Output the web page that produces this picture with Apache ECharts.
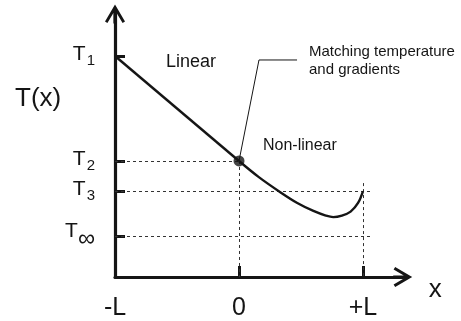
<!DOCTYPE html>
<html><head><meta charset="utf-8">
<script src="https://cdn.jsdelivr.net/npm/echarts@6/dist/echarts.min.js"></script>
<style>html,body{margin:0;padding:0;background:#fff}#c{width:461px;height:321px}</style>
</head><body><div id="c"></div>
<script>
// ---- data ----
const xTickValues = [-1, 0, 1];
const xTickLabels = ['-L', '0', '+L'];
const yLevelNames = ['1', '2', '3', '∞'];
const yLevelValues = [100, 52.5, 38.9, 18.6];
const linearX = [-1, 0];
const linearT = [100, 52.5];
const nonlinearX = [0, 0.16, 0.33, 0.47, 0.6, 0.7, 0.76, 0.83, 0.9, 0.96, 1.0];
const nonlinearT = [52.5, 45.2, 38.5, 33.5, 29.9, 27.8, 27.1, 27.8, 29.6, 33.5, 38.9];
const matchPoint = [0, 52.5];

const FONT = 'Liberation Sans, Arial, sans-serif';
const INK = '#151515';
const ARROW = 'path://M0,0 L10,17 L7.6,18.6 L1.6,8.4 L1.6,19 L-1.6,19 L-1.6,8.4 L-7.6,18.6 L-10,17 Z';

const chart = echarts.init(document.getElementById('c'), null, {renderer: 'canvas'});
const T2 = yLevelValues[1], T3 = yLevelValues[2], Tinf = yLevelValues[3];

chart.setOption({
  animation: false,
  grid: {left: 115, top: 14, right: 58.3, bottom: 44, containLabel: false},
  xAxis: {
    type: 'value', min: -1, max: 1.32,
    splitLine: {show: false},
    axisLine: {show: true, onZero: false, lineStyle: {color: INK, width: 3.2}, symbol: ['none', ARROW], symbolSize: [20, 19]},
    axisTick: {show: true, customValues: [xTickValues[1], xTickValues[2]], inside: true, length: 11, lineStyle: {color: INK, width: 3}},
    axisLabel: {customValues: xTickValues, margin: 19, fontSize: 25, fontFamily: FONT, color: INK,
      formatter: v => xTickLabels[xTickValues.indexOf(v)]},
    name: 'x', nameLocation: 'end', nameGap: 26,
    nameTextStyle: {fontSize: 26, fontFamily: FONT, color: INK, verticalAlign: 'top', align: 'left'}
  },
  yAxis: {
    type: 'value', min: 0, max: 119,
    splitLine: {show: false},
    axisLine: {show: true, onZero: false, lineStyle: {color: INK, width: 3.2}, symbol: ['none', ARROW], symbolSize: [20, 19]},
    axisTick: {show: true, customValues: yLevelValues, inside: true, length: 10, lineStyle: {color: INK, width: 3}},
    axisLabel: {customValues: yLevelValues, margin: 20, color: INK,
      formatter: v => {
        const n = yLevelNames[yLevelValues.indexOf(v)];
        return '{t|T}' + (n === '∞' ? '{i|' + n + '}' : '{s|' + n + '}');
      },
      rich: {
        t: {fontSize: 21, fontFamily: FONT, color: INK, verticalAlign: 'top'},
        s: {fontSize: 15, fontFamily: FONT, color: INK, verticalAlign: 'top', padding: [9, 0, 0, 1]},
        i: {fontSize: 24, fontFamily: FONT, color: INK, verticalAlign: 'top', padding: [6, 0, 0, 0]}
      }}
  },
  graphic: [
    {type: 'text', x: 15, y: 99, style: {text: 'T(x)', font: '26px ' + FONT, fill: INK, textVerticalAlign: 'middle'}},
    {type: 'text', x: 166, y: 62, style: {text: 'Linear', font: '18px ' + FONT, fill: INK, textVerticalAlign: 'middle'}},
    {type: 'text', x: 263, y: 146, style: {text: 'Non-linear', font: '16px ' + FONT, fill: INK, textVerticalAlign: 'middle'}},
    {type: 'text', x: 309, y: 52, style: {text: 'Matching temperature', font: '15px ' + FONT, fill: INK, textVerticalAlign: 'middle'}},
    {type: 'text', x: 309, y: 70, style: {text: 'and gradients', font: '15px ' + FONT, fill: INK, textVerticalAlign: 'middle'}}
  ],
  series: [
    {
      name: 'linear', type: 'line', symbol: 'none', z: 5,
      data: linearX.map((x, i) => [x, linearT[i]]),
      lineStyle: {color: INK, width: 2.4},
      markLine: {
        silent: true, symbol: 'none', label: {show: false},
        lineStyle: {color: '#333', width: 1, type: [3, 3]},
        data: [
          [{coord: [-1, T2]}, {coord: [0, T2]}],
          [{coord: [-1, T3]}, {coord: [1.08, T3]}],
          [{coord: [-1, Tinf]}, {coord: [1.08, Tinf]}],
          [{coord: [0, T2]}, {coord: [0, 0]}],
          [{coord: [1, 42.5]}, {coord: [1, 0]}]
        ]
      }
    },
    {
      name: 'nonlinear', type: 'line', symbol: 'none', smooth: 0.35, z: 5,
      data: nonlinearX.map((x, i) => [x, nonlinearT[i]]),
      lineStyle: {color: INK, width: 2.4}
    },
    {
      name: 'leader', type: 'line', symbol: 'none', z: 4,
      data: [matchPoint, [0.161, 98.2], [0.468, 98.2]],
      lineStyle: {color: INK, width: 1}
    },
    {
      name: 'match', type: 'scatter', symbolSize: 11, z: 6,
      data: [matchPoint], itemStyle: {color: INK}
    }
  ]
});
</script></body></html>
